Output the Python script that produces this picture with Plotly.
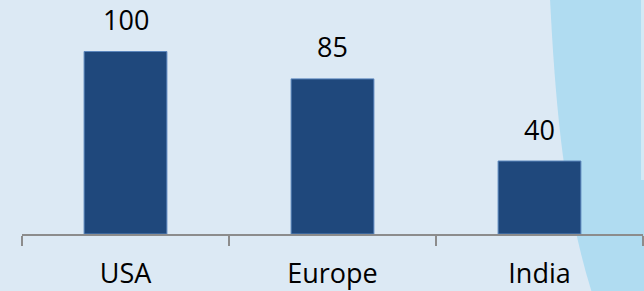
import plotly.graph_objects as go

categories = ["USA", "Europe", "India"]
values = [100, 85, 40]
value_labels = ["100", "85", "40"]

W, H = 644, 291
L, R, T, B = 22, 1, 15, 57
pw, ph = W - L - R, H - T - B

def px(x):
    return (x - L) / pw

def py(y):
    return (H - B - y) / ph

wave_path = (f"M {px(550):.4f},{py(-2):.4f} "
             f"C {px(556):.4f},{py(120):.4f} {px(566):.4f},{py(210):.4f} {px(592):.4f},{py(293):.4f} "
             f"L {px(646):.4f},{py(293):.4f} L {px(646):.4f},{py(-2):.4f} Z")
pale_path = (f"M {px(641):.4f},{py(-2):.4f} L {px(646):.4f},{py(-2):.4f} "
             f"L {px(646):.4f},{py(180):.4f} L {px(641):.4f},{py(180):.4f} Z")

fig = go.Figure()
fig.add_trace(go.Bar(
    x=categories, y=values,
    marker=dict(color="#1f487c", line=dict(color="#5b86bd", width=1)),
    hoverinfo="skip",
))

for c, v, t in zip(categories, values, value_labels):
    fig.add_annotation(x=c, y=v, text=t, showarrow=False, yanchor="middle",
                       yshift=32, font=dict(family="Open Sans", size=27, color="#000000"))

fig.update_layout(
    width=W, height=H,
    margin=dict(l=L, r=R, t=T, b=B),
    paper_bgcolor="#dce9f4",
    plot_bgcolor="rgba(0,0,0,0)",
    showlegend=False,
    bargap=0.6,
    font=dict(family="Open Sans", size=27, color="#000000"),
    shapes=[
        dict(type="path", path=wave_path, xref="paper", yref="paper",
             fillcolor="#b0dcf1", line=dict(width=0), layer="below"),
        dict(type="path", path=pale_path, xref="paper", yref="paper",
             fillcolor="#d3e9f5", line=dict(width=0), layer="below"),
    ],
)
fig.update_xaxes(
    showline=True, linecolor="#8c8c8c", linewidth=2,
    ticks="outside", tickson="boundaries", ticklen=10, tickwidth=2, tickcolor="#8c8c8c",
    ticklabelstandoff=15,
    range=[-0.5, 2.5], showgrid=False, zeroline=False,
    tickfont=dict(family="Open Sans", size=27, color="#000000"),
)
fig.update_yaxes(range=[0, 120], visible=False, showgrid=False, zeroline=False)

fig.write_html(
    "out.html",
    config={"displayModeBar": False},
    post_script="document.body.style.margin='0';document.body.style.overflow='hidden';",
)
